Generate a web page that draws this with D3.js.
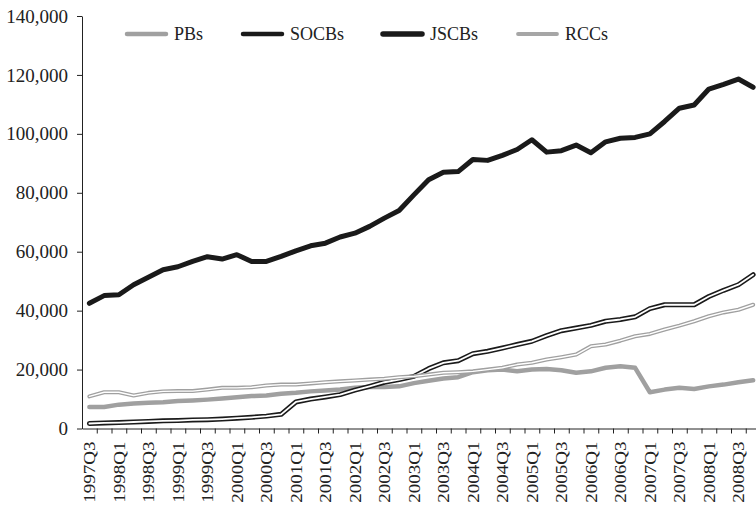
<!DOCTYPE html>
<html>
<head>
    <script src="https://d3js.org/d3.v7.min.js"></script>
    <style>
        body { margin: 0; background: #fff; }
        text { font-family: "Liberation Serif", "Times New Roman", serif; fill: #222; }
    </style>
</head>
<body>
<div id="chart"></div>
<script>
    // quarters 1997Q3 .. 2008Q4
    var quarters = [];
    for (var y = 1997; y <= 2008; y++) {
        for (var q = 1; q <= 4; q++) {
            if (y == 1997 && q < 3) continue;
            quarters.push(y + "Q" + q);
        }
    }

    var seriesNames = ["PBs", "SOCBs", "JSCBs", "RCCs"];

    var pbs = [7300, 7300, 8100, 8500, 8700, 8900, 9300, 9500, 9800, 10200, 10600, 11000,
        11200, 11800, 12100, 12600, 12900, 13200, 13800, 14100, 14100, 14300, 15400, 16200,
        17000, 17400, 19100, 19800, 20000, 19400, 20000, 20200, 19800, 18900, 19400, 20600,
        21100, 20600, 12300, 13200, 13800, 13400, 14300, 14900, 15700, 16400];

    var socbs = [1700, 1900, 2000, 2200, 2400, 2600, 2700, 2900, 3000, 3200, 3500, 3800,
        4200, 4800, 9000, 10000, 10700, 11500, 13000, 14300, 15700, 16600, 17700, 20300,
        22300, 23000, 25400, 26200, 27300, 28500, 29600, 31500, 33200, 34100, 35000, 36400,
        37000, 37900, 40700, 42000, 42000, 42000, 44800, 46900, 48800, 52200];

    var jscbs = [42500, 45100, 45400, 48800, 51300, 53900, 54900, 56700, 58300, 57500, 59000, 56700,
        56700, 58400, 60300, 62000, 62900, 65000, 66300, 68600, 71400, 74000, 79300, 84400,
        87000, 87200, 91300, 91000, 92700, 94700, 98000, 93800, 94300, 96200, 93600, 97300,
        98500, 98800, 100000, 104200, 108700, 109800, 115200, 116800, 118600, 115800];

    var rccs = [10900, 12300, 12300, 11200, 12100, 12600, 12700, 12700, 13200, 13800, 13800, 14000,
        14600, 14900, 14900, 15300, 15700, 16000, 16300, 16600, 16900, 17400, 17700, 18300,
        18900, 19100, 19400, 20000, 20600, 21700, 22300, 23400, 24200, 25100, 27900, 28500,
        29800, 31300, 32100, 33600, 34900, 36400, 38100, 39400, 40300, 42000];

    var yTicks = [0, 20000, 40000, 60000, 80000, 100000, 120000, 140000];

    var w = 756, h = 505;
    var padL = 82, padT = 16, axisY = 428.5, padR = 760.5;

    var svg = d3.select("#chart").append("svg")
        .attr("width", w).attr("height", h);

    var xScale = d3.scaleBand().domain(quarters).range([padL, padR]).padding(0);
    var idxScale = d3.scaleLinear().domain([0, quarters.length]).range([padL, padR]);
    var yScale = d3.scaleLinear().domain([0, 140000]).range([axisY, padT]);

    // y axis
    var yAxis = d3.axisLeft(yScale).tickValues(yTicks)
        .tickFormat(d3.format(",")).tickSize(5).tickSizeOuter(0).tickPadding(9);
    var gy = svg.append("g").attr("transform", "translate(" + padL + ",0)").call(yAxis);
    gy.selectAll("text").style("font-size", "19px").style("font-family", "Liberation Serif");

    // x axis: ticks between quarters
    var xTickAxis = d3.axisBottom(idxScale).tickValues(d3.range(1, quarters.length))
        .tickFormat("").tickSize(5).tickSizeOuter(0);
    svg.append("g").attr("transform", "translate(0," + axisY + ")").call(xTickAxis);

    // x labels every other quarter
    var xLabelAxis = d3.axisBottom(xScale)
        .tickValues(quarters.filter(function(d, i) { return i % 2 == 0 && i < 45; }))
        .tickSize(0).tickSizeOuter(0);
    var gx = svg.append("g").attr("transform", "translate(0," + axisY + ")").call(xLabelAxis);
    gx.select(".domain").remove();
    gx.selectAll("text")
        .attr("transform", "translate(0,13) rotate(-90) scale(1,0.86)")
        .attr("x", 0).attr("y", 0).attr("dy", "0.35em")
        .style("text-anchor", "end")
        .style("font-size", "19px").style("font-family", "Liberation Serif");

    svg.selectAll(".domain, .tick line").attr("stroke", "#222");

    var line = d3.line()
        .x(function(d, i) { return xScale(quarters[i]) + xScale.bandwidth() / 2; })
        .y(function(d) { return yScale(d); });

    // PBs thick grey
    svg.append("path").datum(pbs).attr("d", line)
        .attr("fill", "none").attr("stroke", "#a0a0a0").attr("stroke-width", 4.5)
        .attr("stroke-linejoin", "round").attr("stroke-linecap", "round");

    // SOCBs black, drawn as outline
    svg.append("path").datum(socbs).attr("d", line)
        .attr("fill", "none").attr("stroke", "#1a1a1a").attr("stroke-width", 5)
        .attr("stroke-linejoin", "round").attr("stroke-linecap", "round");
    svg.append("path").datum(socbs).attr("d", line)
        .attr("fill", "none").attr("stroke", "#fff").attr("stroke-width", 1.8)
        .attr("stroke-linejoin", "round").attr("stroke-linecap", "round");

    // JSCBs thick black
    svg.append("path").datum(jscbs).attr("d", line)
        .attr("fill", "none").attr("stroke", "#1a1a1a").attr("stroke-width", 5)
        .attr("stroke-linejoin", "round").attr("stroke-linecap", "round");

    // RCCs grey outline
    svg.append("path").datum(rccs).attr("d", line)
        .attr("fill", "none").attr("stroke", "#a0a0a0").attr("stroke-width", 4)
        .attr("stroke-linejoin", "round").attr("stroke-linecap", "round");
    svg.append("path").datum(rccs).attr("d", line)
        .attr("fill", "none").attr("stroke", "#fff").attr("stroke-width", 1.4)
        .attr("stroke-linejoin", "round").attr("stroke-linecap", "round");

    // legend
    var legX = [127, 243, 383, 518];
    var legColor = ["#a0a0a0", "#1a1a1a", "#1a1a1a", "#a6a6a6"];
    var legWidth = [4.5, 4.5, 5.5, 3.8];
    var leg = svg.selectAll(".leg").data(seriesNames).enter().append("g")
        .attr("class", "leg")
        .attr("transform", function(d, i) { return "translate(" + legX[i] + ",34)"; });
    leg.append("line").attr("x1", 0).attr("x2", 39).attr("y1", 0).attr("y2", 0)
        .attr("stroke", function(d, i) { return legColor[i]; })
        .attr("stroke-width", function(d, i) { return legWidth[i]; })
        .attr("stroke-linecap", "round");
    leg.append("text").attr("x", 47).attr("y", 0).attr("dy", "0.35em")
        .style("font-size", "18px")
        .text(function(d) { return d; });
</script>
</body>
</html>
